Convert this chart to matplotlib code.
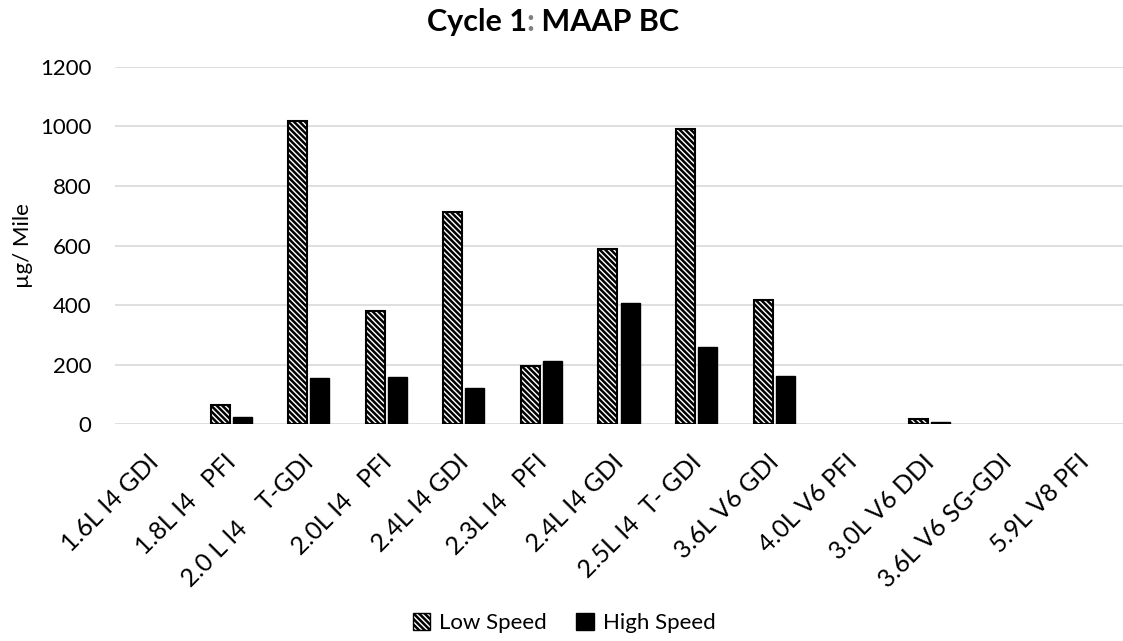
import numpy as np
import matplotlib.pyplot as plt
import matplotlib.transforms as mtransforms
from matplotlib.patches import Patch

plt.rcParams['font.family'] = ['Lato', 'DejaVu Sans']
plt.rcParams['hatch.linewidth'] = 1.8

# 数据
engines = ['1.6L I4 GDI', '1.8L I4   PFI', '2.0 L I4    T-GDI', '2.0L I4   PFI',
           '2.4L I4 GDI', '2.3L I4   PFI', '2.4L I4 GDI', '2.5L I4  T- GDI',
           '3.6L V6 GDI', '4.0L V6 PFI', '3.0L V6 DDI', '3.6L V6 SG-GDI',
           '5.9L V8 PFI']
low_speed = [0, 64, 1020, 380, 712, 196, 588, 990, 418, 0, 17, 0, 0]
high_speed = [0, 24, 155, 158, 121, 212, 408, 258, 163, 0, 8, 0, 0]
y_ticks = [0, 200, 400, 600, 800, 1000, 1200]

fig = plt.figure(figsize=(11.23, 6.41), dpi=100)
ax = fig.add_axes([0.1024, 0.3385, 0.8976, 0.557])

x = np.arange(len(engines))
w = 0.245
# 零值的柱子不画边框
ax.bar(x - 0.142, low_speed, w, color='white', edgecolor='black',
       hatch='\\\\\\\\\\\\', linewidth=[1.5 if v > 0 else 0 for v in low_speed],
       label='Low Speed', zorder=3)
ax.bar(x + 0.142, high_speed, w, color='black', edgecolor='black',
       linewidth=[1.0 if v > 0 else 0 for v in high_speed],
       label='High Speed', zorder=3)

ax.set_xlim(-0.5, len(engines) - 0.5)
ax.set_ylim(0, 1200)
ax.set_yticks(y_ticks)
ax.tick_params(axis='y', length=0, labelsize=16, pad=17)
ax.tick_params(axis='x', length=0, labelsize=18, pad=19)
ax.set_xticks(x)
ax.set_xticklabels(engines, rotation=45, ha='right', va='top', rotation_mode='anchor')
shift = mtransforms.ScaledTranslation(-5 / 72, 0, fig.dpi_scale_trans)
for lbl in ax.get_xticklabels():
    lbl.set_transform(lbl.get_transform() + shift)
ax.grid(axis='y', color='#d9d9d9', linewidth=1.2, zorder=0)
for s in ax.spines.values():
    s.set_visible(False)
ax.set_ylabel('µg/ Mile', fontsize=16, labelpad=5)

# 标题：冒号为灰色
fig.canvas.draw()
r = fig.canvas.get_renderer()
parts = [('Cycle 1', 'black'), (':', '#7f7f7f'), (' MAAP BC', 'black')]
texts = [fig.text(0, 1 - 22 / 641, p, fontsize=22, fontweight='bold', color=c, va='center')
         for p, c in parts]
widths = [t.get_window_extent(r).width for t in texts]
start = 553 - sum(widths) / 2
for t, wd in zip(texts, widths):
    t.set_x(start / fig.bbox.width)
    start += wd

handles = [Patch(facecolor='white', edgecolor='black', hatch='\\\\\\\\\\\\', label='Low Speed'),
           Patch(facecolor='black', edgecolor='black', label='High Speed')]
fig.legend(handles=handles, loc='center', bbox_to_anchor=(564 / 1123, 1 - 623 / 641), ncol=2,
           frameon=False, fontsize=16, handlelength=0.8, handleheight=0.8,
           handletextpad=0.4, columnspacing=1.3)

fig.savefig('out.png', dpi=100)
